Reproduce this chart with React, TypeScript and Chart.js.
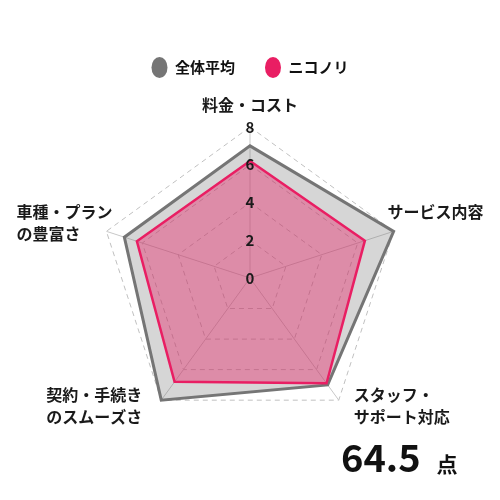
import { useEffect, useRef } from "react";
import { Chart, registerables } from "chart.js";

Chart.register(...registerables);

const categories: string[][] = [
  ["料金・コスト"],
  ["サービス内容"],
  ["スタッフ・", "サポート対応"],
  ["契約・手続き", "のスムーズさ"],
  ["車種・プラン", "の豊富さ"],
];
const seriesNames = ["ニコノリ", "全体平均"];
const nikonoriValues = [6.2, 6.4, 6.9, 6.8, 6.3];
const averageValues = [7.0, 8.0, 7.0, 8.0, 7.0];
const tickValues = [0, 2, 4, 6, 8];
const scoreValue = "64.5";
const scoreUnit = "点";

const FONT = "'Noto Sans CJK JP', 'Noto Sans', sans-serif";

// label placement relative to the outer vertex (style only)
const labelOffsets = [
  { dx: 0, dy: -22, mode: "center" },
  { dx: -6, dy: -19, mode: "left" },
  { dx: 15, dy: -5, mode: "left" },
  { dx: -19, dy: -5, mode: "rightblock" },
  { dx: 6, dy: -19, mode: "rightblock" },
];

const labelPlugin = {
  id: "customLabels",
  afterDraw(chart: any) {
    const scale = chart.scales.r;
    const ctx = chart.ctx;
    ctx.save();
    // tick labels along the vertical axis
    ctx.font = `bold 15px ${FONT}`;
    ctx.fillStyle = "#1a1a1a";
    ctx.textAlign = "center";
    ctx.textBaseline = "middle";
    tickValues.forEach((v) => {
      const d = scale.getDistanceFromCenterForValue(v);
      ctx.fillText(String(v), scale.xCenter, scale.yCenter - d);
    });
    // point labels
    ctx.font = `bold 16px ${FONT}`;
    ctx.fillStyle = "#1a1a1a";
    ctx.textBaseline = "middle";
    (chart.data.labels as string[][]).forEach((lab, i) => {
      const lines = Array.isArray(lab) ? lab : [lab];
      const p = scale.getPointPosition(i, scale.drawingArea);
      const o = labelOffsets[i];
      const maxW = Math.max(...lines.map((l) => ctx.measureText(l).width));
      lines.forEach((line, k) => {
        let x = p.x + o.dx;
        if (o.mode === "center") {
          ctx.textAlign = "center";
        } else {
          ctx.textAlign = "left";
          if (o.mode === "rightblock") x -= maxW;
        }
        ctx.fillText(line, x, p.y + o.dy + k * 22);
      });
    });
    // score
    ctx.textAlign = "left";
    ctx.textBaseline = "alphabetic";
    ctx.font = `bold 38px ${FONT}`;
    ctx.fillStyle = "#111";
    ctx.fillText(scoreValue, 341, 472);
    const w = ctx.measureText(scoreValue).width;
    ctx.font = `bold 21px ${FONT}`;
    ctx.fillText(scoreUnit, 341 + w + 16, 472);
    ctx.restore();
  },
};

export default function App() {
  const ref = useRef<HTMLCanvasElement>(null);
  useEffect(() => {
    document.body.style.margin = "0";
    const chart = new Chart(ref.current!, {
      type: "radar",
      data: {
        labels: categories,
        datasets: [
          {
            label: seriesNames[0],
            data: nikonoriValues,
            borderColor: "#e91e63",
            backgroundColor: "rgba(233,30,99,0.4)",
            borderWidth: 2.5,
            pointRadius: 0,
          },
          {
            label: seriesNames[1],
            data: averageValues,
            borderColor: "#757575",
            backgroundColor: "rgba(120,120,120,0.3)",
            borderWidth: 3,
            pointRadius: 0,
          },
        ],
      },
      options: {
        responsive: false,
        animation: false,
        layout: { padding: { top: 30, left: 99, right: 99, bottom: 29 } },
        plugins: {
          tooltip: { enabled: false },
          legend: {
            reverse: true,
            labels: {
              usePointStyle: true,
              pointStyle: "circle",
              boxHeight: 16,
              pointStyleWidth: 16,
              padding: 30,
              color: "#111",
              font: { size: 15, weight: "bold", family: FONT },
              generateLabels: (c: any) => {
                const items = Chart.defaults.plugins.legend.labels.generateLabels(c);
                return items.map((it: any) => {
                  const ds = c.data.datasets[it.datasetIndex];
                  return { ...it, fillStyle: ds.borderColor, strokeStyle: ds.borderColor, lineWidth: 0 };
                });
              },
            },
          },
        },
        scales: {
          r: {
            min: 0,
            max: 8,
            afterBuildTicks: (s: any) => {
              s.ticks = tickValues.map((v) => ({ value: v }));
            },
            angleLines: { color: "#c8c8c8", lineWidth: 1 },
            grid: { color: "#c0c0c0", lineWidth: 1 },
            border: { dash: [5, 4] },
            pointLabels: { display: false },
            ticks: { display: false },
          } as any,
        },
      },
      plugins: [labelPlugin],
    });
    return () => chart.destroy();
  }, []);
  return (
    <div style={{ position: "fixed", left: 0, top: 0, width: 500, height: 500 }}>
      <canvas ref={ref} width={500} height={500} />
    </div>
  );
}
